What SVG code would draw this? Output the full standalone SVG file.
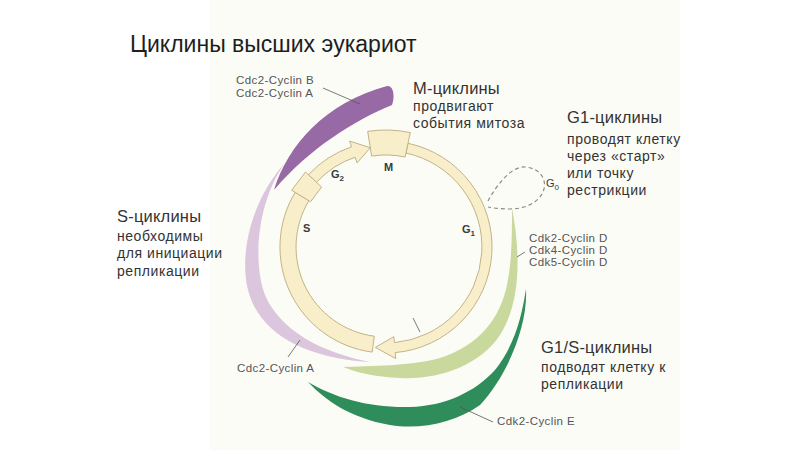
<svg xmlns="http://www.w3.org/2000/svg" width="800" height="450" viewBox="0 0 800 450">
<defs>
<style>
.title{font-family:"Liberation Sans",Arial,sans-serif;font-size:23px;fill:#1e1e1e}
.head{font-family:"Liberation Sans",Arial,sans-serif;font-size:16.5px;fill:#333;letter-spacing:0.2px}
.sub{font-family:"Liberation Sans",Arial,sans-serif;font-size:14px;fill:#333;letter-spacing:0.55px}
.lab{font-family:"Liberation Sans",Arial,sans-serif;font-size:11.5px;fill:#555;letter-spacing:0.4px}
.ph{font-family:"Liberation Sans",Arial,sans-serif;font-size:11px;font-weight:bold;fill:#3a3a3a}
.phs{font-size:8px}
.ring{fill:#f8eec9;stroke:#c2b386;stroke-width:1}
.ptr{stroke:#555;stroke-width:0.8;fill:none}
</style>
</defs>
<rect x="210" y="0" width="470" height="450" fill="#fcfcf7"/>
<text class="title" x="130" y="52">Циклины высших эукариот</text>

<g id="cyclin-M">
<path d="M274,190 C288,145 325,103 387,86 C394,85 395,98 392,105 C355,120 310,148 274,190 Z" fill="#976aa5"/>
<line class="ptr" x1="323" y1="88" x2="360" y2="104"/>
<text class="lab" x="236" y="84">Cdc2-Cyclin B</text>
<text class="lab" x="236" y="97">Cdc2-Cyclin A</text>
</g>

<g id="cyclin-S">
<path d="M285,163 C255,195 238,250 248,290 C258,330 300,358 370,362 C320,352 280,330 265,295 C252,260 258,200 285,163 Z" fill="#dbc6dd"/>
<line class="ptr" x1="300" y1="340" x2="288" y2="357"/>
<text class="lab" x="237" y="372">Cdc2-Cyclin A</text>
</g>

<g id="cyclin-G1">
<path d="M512,208 C520,250 522,300 500,335 C480,365 440,380 400,378 C375,377 355,372 343,367 C370,366 410,366 440,358 C480,345 500,318 507,285 C512,260 512,235 512,208 Z" fill="#c9d89c"/>
<line class="ptr" x1="517" y1="257" x2="525" y2="252"/>
<text class="lab" x="529" y="242">Cdk2-Cyclin D</text>
<text class="lab" x="529" y="254">Cdk4-Cyclin D</text>
<text class="lab" x="529" y="266">Cdk5-Cyclin D</text>
</g>

<g id="cyclin-G1S">
<path d="M526,289 C528,325 508,375 480,405 C455,423 420,430 390,425 C350,418 325,400 308,382 C335,398 370,408 410,407 C445,406 475,392 495,370 C515,345 522,315 526,289 Z" fill="#2f8d5c"/>
<line class="ptr" x1="460" y1="407" x2="493" y2="422"/>
<text class="lab" x="497" y="425">Cdk2-Cyclin E</text>
</g>

<g id="cycle">
<path id="phase-G1" class="ring" d="M408.0,143.3 A106,106 0 0 1 395.2,352.6 L395.8,358.6 L375.4,347.4 L393.8,336.7 L394.4,342.6 A96,96 0 0 0 406.0,153.1 Z"/>
<path id="phase-S" class="ring" d="M372.2,352.1 A106,106 0 0 1 295.1,192.4 L308.9,200.6 A90,90 0 0 0 374.3,336.2 Z"/>
<path id="box-S" class="ring" d="M291.7,190.3 L305.5,172.0 L321.6,187.0 L310.6,201.7 Z"/>
<path id="phase-G2" class="ring" d="M308.5,174.7 A106,106 0 0 1 351.5,146.8 L349.5,141.1 L370.3,147.7 L357.0,162.9 L355.1,157.2 A95,95 0 0 0 316.5,182.2 Z"/>
<path id="box-M" class="ring" d="M367.7,131.4 A117,117 0 0 1 410.3,132.6 L405.1,157.0 A92,92 0 0 0 371.6,156.1 Z"/>
<line class="ptr" x1="420" y1="332" x2="413" y2="318"/>
<path id="G0-loop" d="M488,201 C497,184 512,166 525,167 C540,168 548,180 543,192 C538,203 525,209 510,209 C500,209 493,208 488,207" fill="none" stroke="#8a8a8a" stroke-width="1.2" stroke-dasharray="4 3"/>
<text class="ph" x="384" y="171">M</text>
<text class="ph" x="331" y="178">G<tspan class="phs" dy="3">2</tspan></text>
<text class="ph" x="303" y="232">S</text>
<text class="ph" x="462" y="233">G<tspan class="phs" dy="3">1</tspan></text>
<text class="ph" x="546" y="187" style="font-weight:normal">G<tspan class="phs" dy="3">0</tspan></text>
</g>

<g id="notes">
<text class="head" x="413" y="94">М-циклины</text>
<text class="sub" x="413" y="111">продвигают</text>
<text class="sub" x="413" y="128">события митоза</text>
<text class="head" x="567" y="123">G1-циклины</text>
<text class="sub" x="567" y="144">проводят клетку</text>
<text class="sub" x="567" y="161">через «старт»</text>
<text class="sub" x="567" y="178">или точку</text>
<text class="sub" x="567" y="195">рестрикции</text>
<text class="head" x="117" y="222">S-циклины</text>
<text class="sub" x="117" y="241">необходимы</text>
<text class="sub" x="117" y="258">для инициации</text>
<text class="sub" x="117" y="276">репликации</text>
<text class="head" x="541" y="353">G1/S-циклины</text>
<text class="sub" x="541" y="372">подводят клетку к</text>
<text class="sub" x="541" y="389">репликации</text>
</g>
</svg>
